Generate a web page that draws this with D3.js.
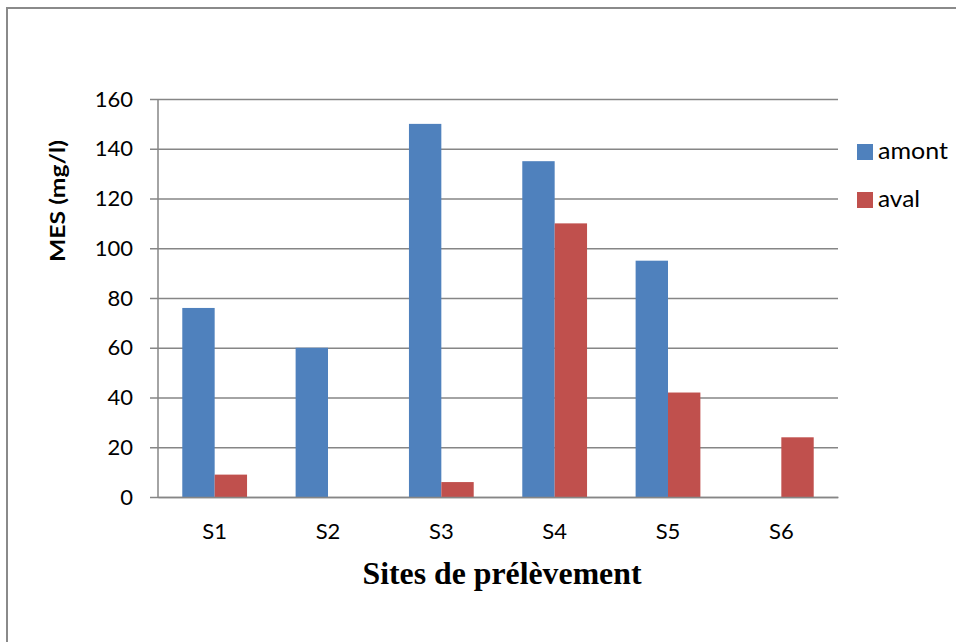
<!DOCTYPE html>
<html>
<head>
<meta charset="utf-8">
<script src="https://cdn.jsdelivr.net/npm/d3@7"></script>
<style>
  html, body { margin: 0; padding: 0; background: #fff; }
  svg { display: block; }
</style>
</head>
<body>
<svg id="chart" width="956" height="642"></svg>
<script>
// MES concentrations per sampling site, upstream (amont) and downstream (aval)
const sites = ["S1", "S2", "S3", "S4", "S5", "S6"];
const amont = [76, 60, 150, 135, 95, 0];
const aval = [9, 0, 6, 110, 42, 24];
const seriesNames = ["amont", "aval"];
const seriesColors = ["#4F81BD", "#C0504D"];
const yTicks = [0, 20, 40, 60, 80, 100, 120, 140, 160];

const svg = d3.select("#chart");
const W = 956, H = 642;
const sans = "Lato, 'Open Sans', sans-serif";

// outer frame
svg.append("rect")
  .attr("x", 7).attr("y", 8)
  .attr("width", W + 10).attr("height", H + 10)
  .attr("fill", "#fff")
  .attr("stroke", "#8a8a8a").attr("stroke-width", 2);

const plot = { left: 158, right: 838, top: 99, bottom: 497 };

const x = d3.scaleBand().domain(sites).range([plot.left, plot.right]);
const y = d3.scaleLinear().domain([0, 160]).range([plot.bottom, plot.top]);

// gridlines with tick marks extending left of the axis
const yAxis = d3.axisLeft(y)
  .tickValues(yTicks)
  .tickSize(-(plot.right - plot.left))
  .tickPadding(25);
const gy = svg.append("g")
  .attr("transform", `translate(${plot.left},0)`)
  .call(yAxis);
gy.select(".domain").remove();
gy.selectAll(".tick line")
  .attr("x1", -8)
  .attr("stroke", "#868686").attr("stroke-width", 1.5);
gy.selectAll(".tick text")
  .attr("font-family", sans)
  .attr("font-size", 22)
  .attr("fill", "#000");

// bars
const barW = x.bandwidth() / 3.5;
const data = sites.map((s, i) => ({ site: s, values: [amont[i], aval[i]] }));
const groups = svg.append("g").selectAll("g")
  .data(data).join("g")
  .attr("transform", d => `translate(${x(d.site) + x.bandwidth() / 2 - barW},0)`);
groups.selectAll("rect")
  .data(d => d.values.map((v, k) => ({ v, k })))
  .join("rect")
  .attr("x", d => d.k * barW)
  .attr("y", d => y(d.v))
  .attr("width", barW)
  .attr("height", d => y(0) - y(d.v))
  .attr("fill", d => seriesColors[d.k]);

// vertical axis line
svg.append("line")
  .attr("x1", plot.left).attr("x2", plot.left)
  .attr("y1", plot.top).attr("y2", plot.bottom)
  .attr("stroke", "#868686").attr("stroke-width", 1.5);

// category axis
const xAxis = d3.axisBottom(x).tickSize(0).tickPadding(26);
const gx = svg.append("g")
  .attr("transform", `translate(0,${plot.bottom})`)
  .call(xAxis);
gx.select(".domain").attr("stroke", "#868686").attr("stroke-width", 1.5);
gx.selectAll(".tick text")
  .attr("font-family", sans)
  .attr("font-size", 22)
  .attr("fill", "#000");

// axis titles
svg.append("text")
  .attr("transform", "translate(65,201) rotate(-90)")
  .attr("text-anchor", "middle")
  .attr("font-family", sans)
  .attr("font-weight", "bold")
  .attr("font-size", 20)
  .attr("textLength", 122)
  .attr("lengthAdjust", "spacingAndGlyphs")
  .text("MES (mg/l)");

svg.append("text")
  .attr("x", 502).attr("y", 584)
  .attr("text-anchor", "middle")
  .attr("font-family", "'Liberation Serif', 'Times New Roman', serif")
  .attr("font-weight", "bold")
  .attr("font-size", 31)
  .attr("textLength", 279)
  .attr("lengthAdjust", "spacingAndGlyphs")
  .text("Sites de prélèvement");

// legend
const legendWidths = [70, 42];
const legend = svg.append("g").selectAll("g")
  .data(seriesNames).join("g")
  .attr("transform", (d, i) => `translate(857,${144 + i * 48})`);
legend.append("rect")
  .attr("width", 16).attr("height", 16)
  .attr("fill", (d, i) => seriesColors[i]);
legend.append("text")
  .attr("x", 21).attr("y", 15)
  .attr("font-family", sans)
  .attr("font-size", 23)
  .attr("textLength", (d, i) => legendWidths[i])
  .attr("lengthAdjust", "spacingAndGlyphs")
  .text(d => d);
</script>
</body>
</html>
